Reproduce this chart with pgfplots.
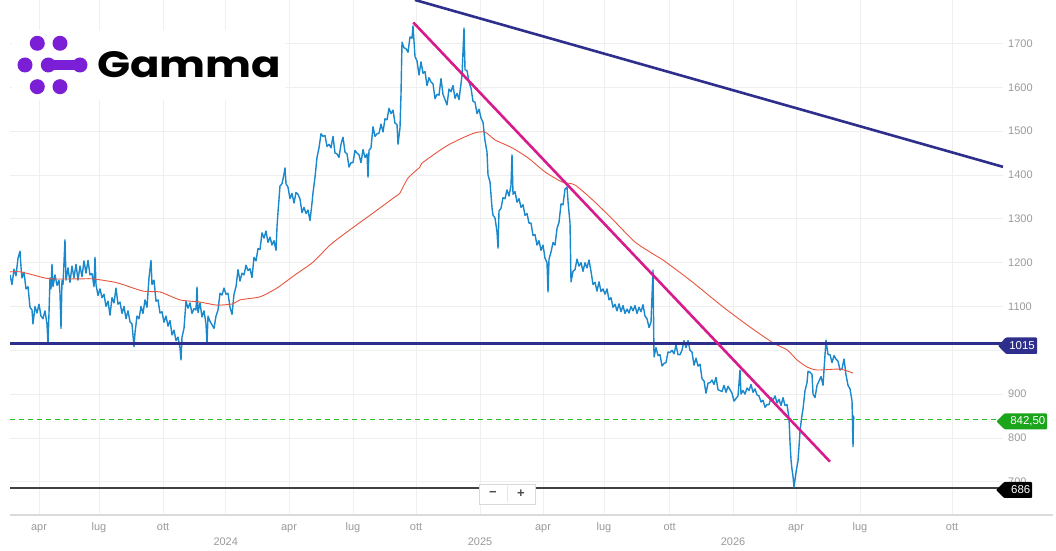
\documentclass[border=0pt]{standalone}
\usepackage{graphicx}
\usepackage{pgfplots}
\pgfplotsset{compat=1.18}
\usepackage{fontspec}
\setmainfont{Liberation Sans}
\newfontfamily\poppins{Poppins}
\definecolor{bluec}{HTML}{1A88CC}
\definecolor{redc}{HTML}{E8553F}
\definecolor{pinkc}{HTML}{D81B8C}
\definecolor{navyc}{HTML}{2E2F8C}
\definecolor{greenline}{RGB}{40,190,40}
\definecolor{greentag}{HTML}{1BA51B}
\definecolor{gridc}{HTML}{EFEFEF}
\definecolor{tickc}{HTML}{9A9A9A}
\definecolor{axisc}{HTML}{DADADA}
\definecolor{logoc}{HTML}{7A1FD6}
\definecolor{darkl}{HTML}{404040}
\begin{document}
\begin{tikzpicture}[x=1bp,y=1bp]
\useasboundingbox (0,0) rectangle (1056,551);
\fill[white] (0,0) rectangle (1056,551);
\begin{axis}[
  at={(10bp,36bp)}, anchor=south west,
  scale only axis, width=993bp, height=515bp,
  xmin=0, xmax=993, ymin=624.2, ymax=1799.2,
  axis line style={draw=none},
  major tick length=0pt,
  xtick={29,89,153,279,343,406,533,594,659.6,786,850,942},
  xticklabels={apr,lug,ott,apr,lug,ott,apr,lug,ott,apr,lug,ott},
  extra x ticks={215.7,470,723},
  extra x tick labels={2024,2025,2026},
  extra x tick style={grid=major, xticklabel style={yshift=-15.5bp}},
  ytick={700,800,...,1700},
  yticklabel pos=right,
  /pgf/number format/assume math mode=true,
  /pgf/number format/1000 sep={},
  grid=major, grid style={draw=gridc, line width=0.8bp},
  tick label style={font=\fontsize{11}{13}\selectfont, text=tickc},
  xticklabel style={anchor=base, yshift=-15.5bp},
  yticklabel style={anchor=west, inner sep=0pt, xshift=5bp},
  clip=true,
]
% horizontal levels
\addplot[no markers, color=darkl, line width=1.6bp] coordinates {(0,686)(993,686)};
\addplot[no markers, draw=greenline, color=greenline, line width=1.4bp, dash pattern=on 5bp off 4bp] coordinates {(0,842.5)(993,842.5)};
% price
\addplot[no markers, color=bluec, line width=1.4bp, line join=round] coordinates {
(0,1172)(2,1150)(4,1185)(6,1170)(8,1210)(10,1226)(11,1190)(12,1165)(14,1178)(16,1140)(18,1145)(20,1098)(22,1092)(23,1060)(25,1100)(27,1085)(29,1105)(31,1078)(33,1072)(35,1090)(37,1060)(38,1015)(39,1085)(40,1165)(41,1140)(42,1196)(43,1145)(45,1172)(47,1148)(49,1160)(50,1130)(51,1050)(52,1160)(53,1150)(55,1252)(56,1160)(58,1188)(60,1155)(62,1192)(64,1165)(66,1196)(68,1160)(70,1192)(72,1168)(74,1204)(76,1176)(78,1205)(80,1172)(82,1175)(84,1145)(85,1212)(86,1150)(88,1125)(90,1140)(92,1120)(94,1128)(96,1100)(98,1112)(100,1080)(102,1120)(104,1108)(106,1142)(108,1105)(110,1110)(112,1084)(114,1100)(116,1072)(118,1090)(120,1065)(122,1060)(124,1008)(125,1040)(127,1078)(129,1072)(131,1100)(133,1084)(135,1115)(137,1098)(139,1165)(141,1205)(142,1150)(144,1160)(146,1112)(148,1115)(150,1085)(152,1088)(154,1064)(156,1078)(158,1055)(160,1068)(162,1035)(164,1046)(166,1022)(168,1030)(170,1005)(171,978)(172,1030)(174,1050)(176,1112)(178,1096)(180,1108)(182,1084)(184,1095)(186,1092)(187,1144)(188,1086)(190,1108)(192,1076)(194,1090)(196,1060)(197,1015)(198,1078)(200,1066)(202,1058)(204,1050)(206,1078)(208,1092)(210,1130)(212,1126)(214,1142)(216,1128)(218,1130)(220,1098)(222,1082)(224,1128)(226,1145)(228,1184)(230,1158)(232,1176)(234,1172)(236,1194)(238,1182)(240,1186)(242,1166)(244,1212)(246,1204)(248,1232)(250,1230)(252,1268)(254,1256)(256,1272)(258,1246)(260,1258)(262,1240)(264,1250)(266,1228)(267,1282)(268,1315)(270,1375)(272,1380)(274,1402)(275,1416)(276,1380)(278,1372)(280,1346)(282,1358)(284,1336)(286,1360)(288,1356)(290,1345)(292,1314)(294,1326)(296,1312)(298,1320)(300,1296)(302,1336)(303,1359)(305,1395)(307,1440)(309,1462)(311,1494)(313,1488)(315,1490)(317,1465)(319,1470)(321,1462)(323,1488)(325,1450)(327,1448)(329,1440)(331,1470)(333,1486)(335,1452)(337,1448)(339,1418)(341,1428)(343,1428)(345,1456)(347,1450)(349,1446)(351,1428)(353,1458)(355,1440)(357,1448)(358,1395)(359,1456)(361,1462)(363,1510)(365,1488)(367,1494)(369,1495)(371,1516)(373,1498)(375,1528)(377,1526)(379,1552)(381,1540)(383,1548)(385,1518)(387,1515)(388,1470)(390,1508)(391,1585)(392,1703)(394,1690)(396,1688)(398,1680)(400,1715)(402,1712)(403,1740)(405,1670)(407,1660)(409,1628)(411,1658)(413,1632)(415,1636)(417,1604)(419,1622)(421,1612)(423,1608)(425,1574)(427,1584)(429,1582)(431,1620)(433,1584)(435,1572)(437,1560)(439,1596)(441,1590)(443,1604)(445,1575)(447,1586)(449,1572)(451,1608)(452,1628)(454,1735)(455,1640)(457,1638)(459,1612)(461,1598)(463,1568)(465,1566)(467,1540)(469,1550)(471,1530)(473,1520)(475,1478)(477,1452)(478,1400)(480,1384)(482,1325)(483,1308)(485,1302)(487,1270)(488,1233)(489,1318)(491,1324)(493,1348)(495,1346)(497,1366)(499,1352)(501,1376)(502,1446)(503,1356)(505,1362)(507,1338)(509,1346)(511,1326)(513,1332)(515,1308)(517,1312)(519,1290)(521,1290)(523,1262)(525,1264)(527,1240)(529,1250)(531,1228)(533,1240)(535,1210)(537,1200)(538,1133)(539,1208)(541,1224)(543,1246)(545,1240)(547,1278)(549,1292)(551,1334)(553,1332)(555,1368)(557,1372)(558,1340)(560,1290)(561,1156)(563,1180)(565,1184)(567,1208)(569,1192)(571,1200)(573,1180)(575,1200)(577,1188)(579,1206)(581,1180)(583,1150)(585,1155)(587,1135)(589,1156)(591,1134)(593,1140)(595,1128)(597,1140)(599,1115)(601,1120)(603,1098)(605,1105)(607,1090)(609,1106)(611,1088)(613,1102)(615,1084)(617,1094)(619,1085)(621,1100)(623,1090)(625,1102)(627,1084)(629,1098)(631,1088)(633,1104)(635,1078)(637,1072)(639,1052)(641,1064)(643,1183)(644,985)(646,1006)(648,988)(650,990)(652,964)(654,970)(656,972)(658,996)(660,995)(662,1000)(664,992)(666,1012)(668,990)(670,990)(672,1000)(674,1022)(676,1006)(678,1022)(680,1000)(682,996)(684,966)(686,982)(688,964)(690,968)(692,935)(694,930)(696,902)(698,925)(700,926)(702,932)(704,922)(706,938)(708,910)(710,908)(712,906)(714,920)(716,904)(718,918)(720,910)(722,902)(724,884)(726,890)(728,896)(730,955)(731,900)(733,908)(735,900)(737,914)(739,908)(741,922)(743,904)(745,912)(747,898)(749,896)(751,882)(753,886)(755,870)(757,876)(759,876)(761,892)(763,886)(765,896)(767,880)(769,888)(771,874)(773,892)(775,874)(777,876)(779,845)(780,790)(781,750)(782,728)(783,712)(784,688)(785,705)(786,722)(787,735)(788,748)(789,780)(790,815)(791,835)(792,852)(793,866)(795,908)(797,926)(798,952)(800,950)(802,945)(803,900)(805,892)(807,920)(809,930)(811,940)(813,920)(815,990)(816,1023)(818,990)(820,990)(822,972)(824,988)(826,980)(828,975)(830,955)(832,958)(834,980)(836,944)(838,920)(840,912)(842,884)(843,780)(843.5,850)(844,842.5)
};
% moving average
\addplot[no markers, color=redc, line width=0.9bp, smooth, tension=0.4] coordinates {
(0,1179)(10,1179)(23,1172)(40,1163)(73,1163)(83,1163)(107,1154)(133,1135)(150,1133)(170,1115)(190,1110)(207,1103)(223,1106)(230,1115)(250,1122)(267,1142)(285,1172)(303,1201)(320,1240)(337,1270)(363,1313)(385,1350)(390,1359)(398,1393)(410,1418)(412,1427)(435,1464)(452,1484)(465,1496)(475,1498)(485,1480)(502,1462)(518,1439)(535,1407)(552,1384)(565,1377)(585,1338)(605,1293)(625,1247)(645,1217)(653,1206)(680,1160)(713,1099)(740,1053)(763,1017)(777,1001)(787,978)(797,962)(807,955)(830,957)(843,948)
};
% support / trend lines
\addplot[no markers, color=navyc, line width=2.6bp] coordinates {(0,1015)(993,1015)};
\addplot[no markers, color=pinkc, line width=2.6bp] coordinates {(403.3,1748)(820,745.8)};
\addplot[no markers, color=navyc, line width=2.6bp] coordinates {(405,1799.2)(993,1418.5)};
\end{axis}
% bottom axis line
\draw[axisc, line width=1.2bp] (10,36) -- (1053,36);
% logo
\fill[white] (12,451) rectangle (285,521);
\fill[logoc] (37.3,507.7) circle (7.5) (60,507.7) circle (7.5)
  (25,486) circle (7.5) (48.3,486) circle (7.5) (80,486) circle (7.5)
  (37.3,464.3) circle (7.5) (60,464.3) circle (7.5);
\fill[logoc] (48.3,481) rectangle (80,491);
\node[anchor=south west, inner sep=0pt] at (97,473) {\resizebox{184bp}{26bp}{\poppins\bfseries Gamma}};
% zoom control
\draw[fill=white, draw=black!15, line width=0.6bp] (479,47) rectangle (535,67);
\draw[black!10, line width=0.6bp] (507,49) -- (507,65);
\node[font=\fontsize{13}{13}\selectfont\bfseries, text=black!70] at (493,57.5) {\textminus};
\node[font=\fontsize{13}{13}\selectfont\bfseries, text=black!70] at (521,57.5) {+};
% tags
\fill[navyc, rounded corners=1bp] (998,205.3) -- (1006,213.6) -- (1037,213.6) -- (1037,197) -- (1006,197) -- cycle;
\node[anchor=east, inner sep=0pt, text=white, font=\fontsize{11.5}{12}\selectfont] at (1035,205.3) {1015};
\fill[greentag, rounded corners=1bp] (996.5,129.7) -- (1004.5,137.7) -- (1047,137.7) -- (1047,121.7) -- (1004.5,121.7) -- cycle;
\node[anchor=east, inner sep=0pt, text=white, font=\fontsize{11.5}{12}\selectfont] at (1045.5,129.7) {842,50};
\fill[black, rounded corners=1bp] (996,61) -- (1004,69) -- (1032,69) -- (1032,53) -- (1004,53) -- cycle;
\node[anchor=east, inner sep=0pt, text=white, font=\fontsize{11.5}{12}\selectfont] at (1030.5,61) {686};
\end{tikzpicture}
\end{document}
